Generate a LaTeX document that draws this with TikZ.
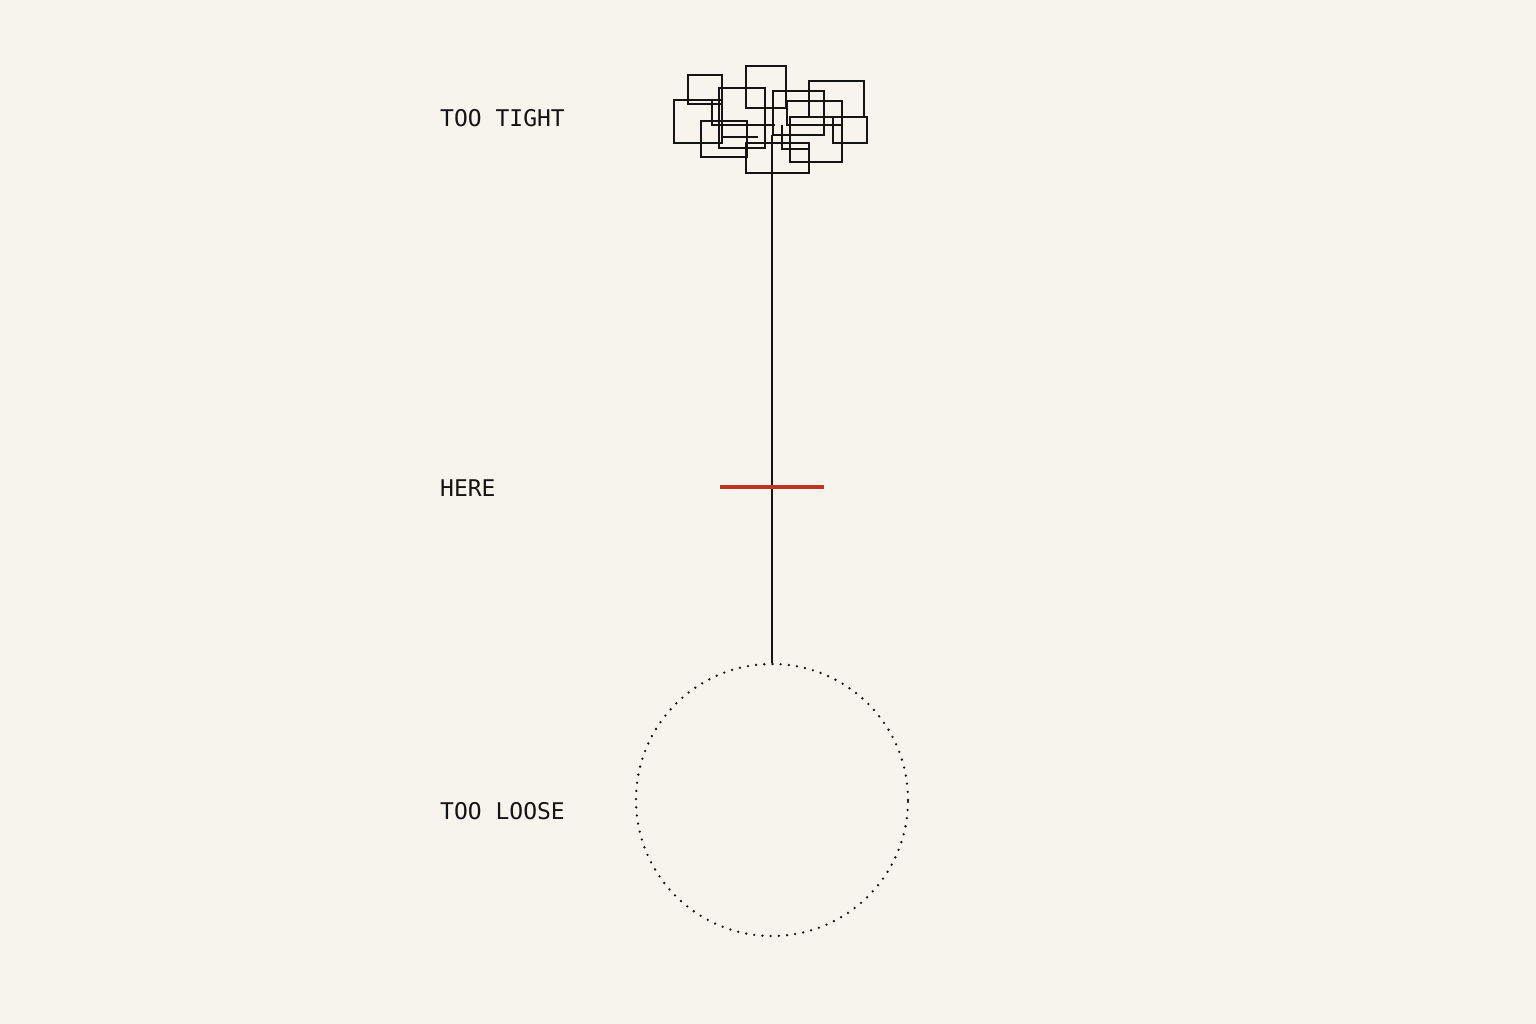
\documentclass[tikz,border=0pt]{standalone}
\usepackage{fontspec}
\setmonofont{DejaVu Sans Mono}
\usepackage{tikz}
\usetikzlibrary{positioning}
\definecolor{paper}{RGB}{247,244,238}
\definecolor{ink}{RGB}{20,20,20}
\definecolor{markred}{RGB}{192,52,36}
\tikzstyle{label} = [anchor=base west, inner sep=0pt, font=\ttfamily\fontsize{23}{26}\selectfont, text=ink]
\tikzstyle{knot}  = [draw=ink, line width=1.8pt]
\begin{document}
\begin{tikzpicture}[x=1pt, y=-1pt]
  \fill[paper] (0,0) rectangle (1536,1024);
  \useasboundingbox (0,0) rectangle (1536,1024);
  % labels
  \node[label] (tight) at (440,127) {TOO TIGHT};
  \node[label] (here) at (440,496) {HERE};
  \node[label] (loose) at (440,819) {TOO LOOSE};
  % tangle
  \foreach \xa/\ya/\xb/\yb in {688/75/722/104, 674/100/722/143, 719/88/765/148,
      701/121/747/157, 746/66/786/108, 809/81/864/117, 773/91/824/135,
      787/101/842/125, 790/117/842/162, 833/117/867/143, 746/143/809/173}
    \draw[knot] (\xa,\ya) rectangle (\xb,\yb);
  \draw[knot] (712,100) -- (712,125) -- (775,125);
  \draw[knot] (722,137) -- (758,137);
  \draw[knot] (782,125) -- (782,149) -- (809,149);
  \coordinate (knotend) at (772,135);
  % ring
  \node[circle, minimum size=272pt, inner sep=0pt, draw=ink, line width=2.6pt,
        line cap=round, dash pattern=on 0pt off 8.2pt] (ring) at (772,800) {};
  \draw[ink, line width=1.6pt] (knotend) -- (ring.north);
  % mark
  \coordinate (markl) at (720,487);
  \coordinate (markr) at (824,487);
  \draw[markred, line width=3.2pt] (markl) -- (markr);
\end{tikzpicture}
\end{document}
